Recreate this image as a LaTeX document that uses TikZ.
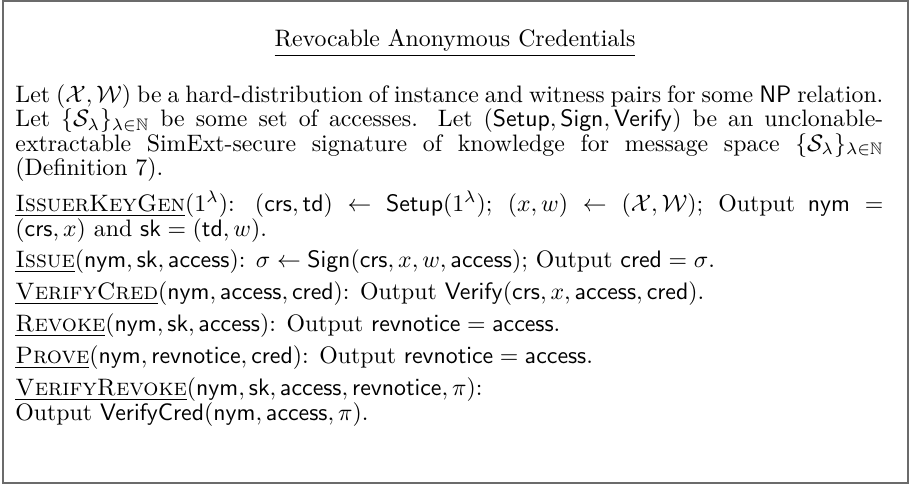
\documentclass[tikz,border=0pt]{standalone}
\usepackage{amsmath,amssymb}
% algorithm names: underlined small capitals
\newcommand{\algname}[1]{\underline{\textsc{#1}}}
\begin{document}
\begin{tikzpicture}[x=1pt,y=1pt,
  frame/.style={draw=black!58, line width=0.55pt},
  titletext/.style={anchor=base, inner sep=0pt},
  bodytext/.style={anchor=base west, inner sep=0pt, text width=364.7pt, align=justify,
    font=\fontsize{10pt}{10.3pt}\selectfont}]
\useasboundingbox (0,0) rectangle (384.5,-204.2);
\draw[frame] (1.26,-0.45) rectangle (381.5,-202.9);
\node[titletext] (title) at (191.2,-19.7) {\underline{Revocable Anonymous Credentials}};
\node[bodytext] (body) at (6.3,-42.9) {\setlength{\parskip}{3.1pt}%
Let $(\mathcal{X},\mathcal{W})$ be a hard-distribution of instance and witness pairs for some \textsf{NP} relation.\linebreak
Let $\{\mathcal{S}_\lambda\}_{\lambda\in\mathbb{N}}$ be some set of accesses. Let $(\mathsf{Setup},\mathsf{Sign},\mathsf{Verify})$ be an unclonable-\linebreak extractable SimExt-secure signature of knowledge for message space $\{\mathcal{S}_\lambda\}_{\lambda\in\mathbb{N}}$\linebreak (Definition 7).\par
\algname{IssuerKeyGen}$(1^\lambda)$: $(\mathsf{crs},\mathsf{td}) \leftarrow \mathsf{Setup}(1^\lambda)$; $(x,w)\leftarrow(\mathcal{X},\mathcal{W})$; Output $\mathsf{nym} =$\linebreak$(\mathsf{crs},x)$ and $\mathsf{sk}=(\mathsf{td},w)$.\par
\algname{Issue}$(\mathsf{nym},\mathsf{sk},\mathsf{access})$: $\sigma\leftarrow\mathsf{Sign}(\mathsf{crs},x,w,\mathsf{access})$; Output $\mathsf{cred}=\sigma$.\par
\algname{VerifyCred}$(\mathsf{nym},\mathsf{access},\mathsf{cred})$: Output $\mathsf{Verify}(\mathsf{crs},x,\mathsf{access},\mathsf{cred})$.\par
\algname{Revoke}$(\mathsf{nym},\mathsf{sk},\mathsf{access})$: Output $\mathsf{revnotice}=\mathsf{access}$.\par
\algname{Prove}$(\mathsf{nym},\mathsf{revnotice},\mathsf{cred})$: Output $\mathsf{revnotice}=\mathsf{access}$.\par
\algname{VerifyRevoke}$(\mathsf{nym},\mathsf{sk},\mathsf{access},\mathsf{revnotice},\pi)$:\\
Output $\mathsf{VerifyCred}(\mathsf{nym},\mathsf{access},\pi)$.};
\end{tikzpicture}
\end{document}
